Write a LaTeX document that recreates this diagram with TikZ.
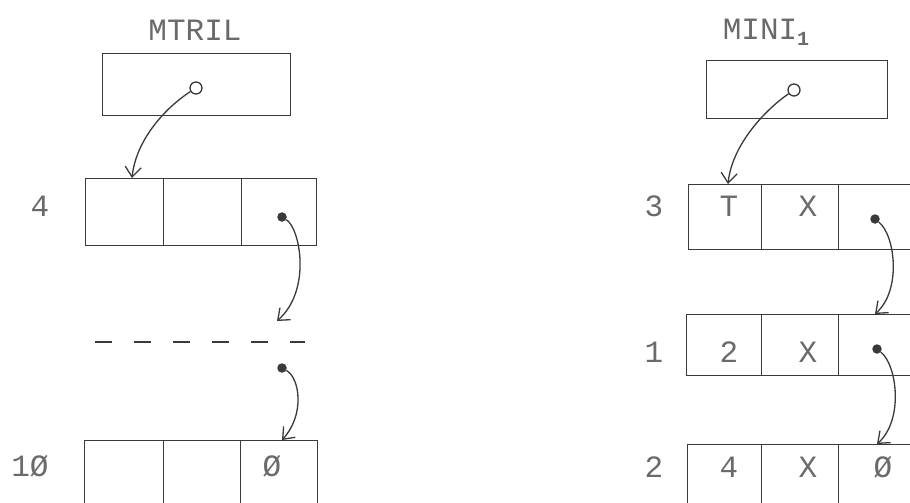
\documentclass[tikz,border=0pt]{standalone}
\usepackage{fontspec}
\setmainfont{Liberation Mono}
\usetikzlibrary{arrows.meta}
\definecolor{ink}{HTML}{3A3A3A}
\definecolor{txt}{HTML}{6A6A6A}
\tikzset{
  lw/.style={line width=1.3pt, draw=ink},
  cellbox/.style={lw, rectangle, inner sep=0pt, anchor=north west},
  lbl/.style={text=txt, font=\fontsize{31}{31}\selectfont, inner sep=0pt},
  hollow/.style={circle, draw=ink, line width=1.3pt, fill=white, minimum size=12pt, inner sep=0pt},
  blob/.style={circle, fill=ink, minimum size=9.5pt, inner sep=0pt},
  ptr/.style={lw, -{Straight Barb[length=10pt,width=16pt,line width=1.3pt]}},
  gap/.style={lw, dash pattern=on 17pt off 22pt}
}
\begin{document}
\begin{tikzpicture}[x=1pt,y=-1pt]
\useasboundingbox (0,0) rectangle (910,503);
\clip (0,0) rectangle (910,503);
\fill[white] (0,0) rectangle (910,503);

% ---------- left: MTRIL ----------
\node[lbl] (tMTRIL) at (195,30) {MTRIL};
\node[cellbox, minimum width=188pt, minimum height=62pt] (LtopBox) at (102,53) {};
\node[hollow] (Lc) at (196,88) {};

\node[lbl] (L4) at (40,206) {4};
\node[cellbox, minimum width=78pt, minimum height=67pt] (La1) at (85,178) {};
\node[cellbox, minimum width=78pt, minimum height=67pt] (La2) at (163,178) {};
\node[cellbox, minimum width=75pt, minimum height=67pt] (La3) at (241,178) {};
\node[blob] (Lda) at (282,217) {};

\coordinate (LdashA) at (95,342);
\coordinate (LdashB) at (305,342);
\draw[gap] (LdashA) -- (LdashB);
\coordinate (Lend1) at (277,321);

\node[blob] (Ldb) at (282,368) {};

\node[lbl] (L10) at (30,466) {1Ø};
\node[cellbox, minimum width=79pt, minimum height=70pt] (Lb1) at (84,440) {};
\node[cellbox, minimum width=77pt, minimum height=70pt] (Lb2) at (163,440) {};
\node[cellbox, minimum width=77pt, minimum height=70pt] (Lb3) at (240,440) {};
\node[lbl] (LbNil) at (272,466) {Ø};

\coordinate (Lend0) at (132,178);
\draw[ptr] (Lc) .. controls (165,108) and (136,140) .. (Lend0);
\draw[ptr] (Lda) .. controls (300,228) and (312,290) .. (Lend1);
\draw[ptr] (Ldb) .. controls (300,378) and (305,415) .. (Lb3.north -| Ldb);

% ---------- right: MINI1 ----------
\node[lbl] (tMINI) at (766,32) {MINI\raisebox{-6pt}{\fontsize{20}{20}\selectfont\bfseries 1}};
\node[cellbox, minimum width=181pt, minimum height=58pt] (RtopBox) at (706,60) {};
\node[hollow] (Rc) at (794,90) {};

\node[lbl] (R3) at (654,206) {3};
\node[cellbox, minimum width=73pt, minimum height=65pt] (Ra1) at (688,184) {};
\node[cellbox, minimum width=77pt, minimum height=65pt] (Ra2) at (761,184) {};
\node[cellbox, minimum width=90pt, minimum height=65pt] (Ra3) at (838,184) {};
\node[lbl] (RaT) at (729,206) {T};
\node[lbl] (RaX) at (808,206) {X};
\node[blob] (Rda) at (875,219) {};

\node[lbl] (R1) at (654,352) {1};
\node[cellbox, minimum width=75pt, minimum height=61pt] (Rb1) at (686,314) {};
\node[cellbox, minimum width=77pt, minimum height=61pt] (Rb2) at (761,314) {};
\node[cellbox, minimum width=90pt, minimum height=61pt] (Rb3) at (838,314) {};
\node[lbl] (Rb2t) at (729,352) {2};
\node[lbl] (RbX) at (808,352) {X};
\node[blob] (Rdb) at (877,349) {};

\node[lbl] (R2) at (654,467) {2};
\node[cellbox, minimum width=74pt, minimum height=70pt] (Rc1) at (687,444) {};
\node[cellbox, minimum width=77pt, minimum height=70pt] (Rc2) at (761,444) {};
\node[cellbox, minimum width=90pt, minimum height=70pt] (Rc3) at (838,444) {};
\node[lbl] (Rc4) at (729,467) {4};
\node[lbl] (RcX) at (808,467) {X};
\node[lbl] (RcNil) at (883,467) {Ø};

\coordinate (Rend0) at (728,184);
\draw[ptr] (Rc) .. controls (765,110) and (732,145) .. (Rend0);
\draw[ptr] (Rda) .. controls (895,235) and (902,290) .. (Rb3.north -| Rda);
\draw[ptr] (Rdb) .. controls (897,365) and (904,420) .. (Rc3.north -| Rdb);
\end{tikzpicture}
\end{document}
